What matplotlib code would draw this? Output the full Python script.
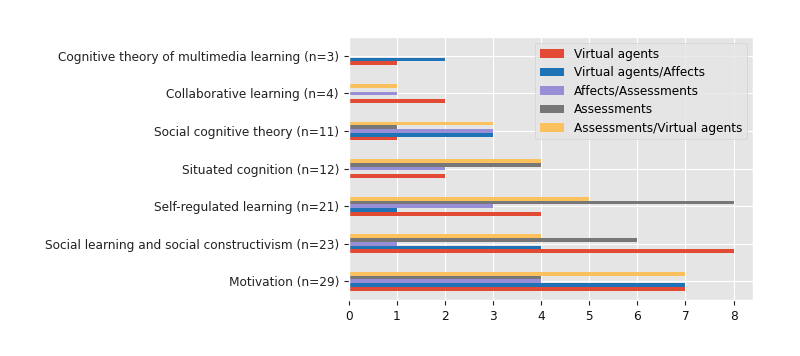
import numpy as np
import matplotlib
matplotlib.use("Agg")
import matplotlib.pyplot as plt

plt.style.use("ggplot")

categories = [
    "Motivation (n=29)",
    "Social learning and social constructivism (n=23)",
    "Self-regulated learning (n=21)",
    "Situated cognition (n=12)",
    "Social cognitive theory (n=11)",
    "Collaborative learning (n=4)",
    "Cognitive theory of multimedia learning (n=3)",
]
series_names = [
    "Virtual agents",
    "Virtual agents/Affects",
    "Affects/Assessments",
    "Assessments",
    "Assessments/Virtual agents",
]
virtual_agents = [7, 8, 4, 2, 1, 2, 1]
virtual_agents_affects = [7, 4, 1, 0, 3, 0, 2]
affects_assessments = [4, 1, 3, 2, 3, 1, 0]
assessments = [4, 6, 8, 4, 1, 0, 0]
assessments_virtual_agents = [7, 4, 5, 4, 3, 1, 0]

colors = ["#E24A33", "#1f72b5", "#988ED5", "#777777", "#FBC15E"]

values = [virtual_agents, virtual_agents_affects, affects_assessments,
          assessments, assessments_virtual_agents]

fig = plt.figure(figsize=(8, 3.56), dpi=100)
ax = fig.add_axes([0.436, 0.157, 0.505, 0.739])

y = np.arange(len(categories))
h = 0.1
for i, (name, vals) in enumerate(zip(series_names, values)):
    ax.barh(y + (i - 2) * h, vals, height=h, color=colors[i], label=name)

ax.set_yticks(y)
ax.set_yticklabels(categories, fontsize=8.7, color="#111111")
ax.set_xticks(range(9))
ax.tick_params(axis="x", labelsize=8.7, labelcolor="#111111", colors="#222222")
ax.tick_params(axis="y", colors="#222222")
ax.set_xlim(0, 8.4)
ax.set_ylim(-0.5, len(categories) - 0.5)
ax.legend(loc="upper right", fontsize=8.7, labelspacing=0.45)

plt.savefig("out.png", dpi=100)
